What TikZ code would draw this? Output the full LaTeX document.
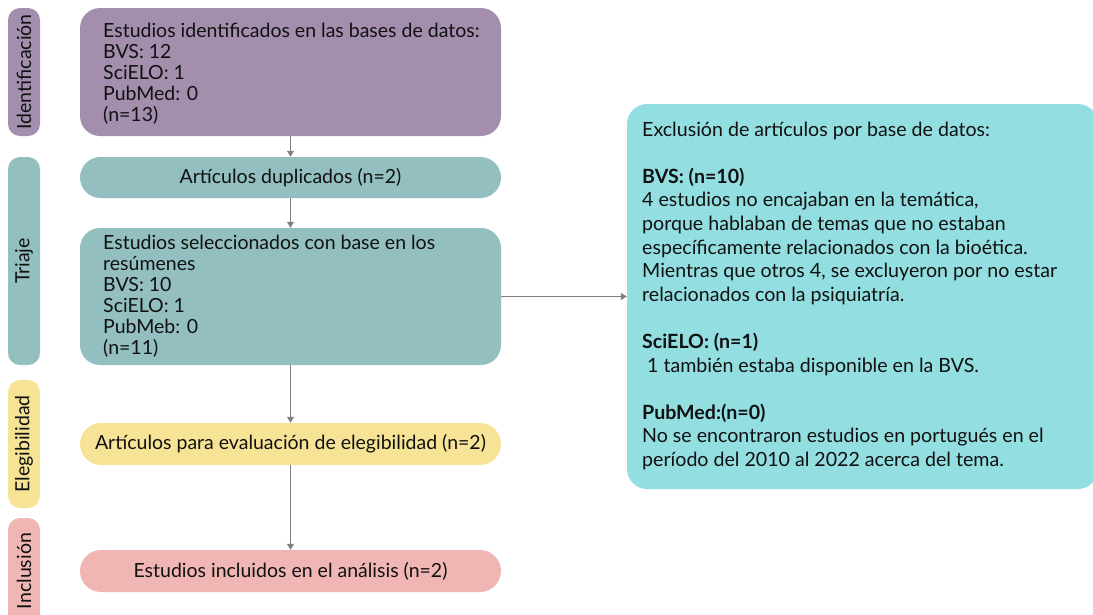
\documentclass[tikz,border=0pt]{standalone}
\usepackage{fontspec}
\setmainfont{Lato}
\usetikzlibrary{arrows.meta}
\definecolor{cpurple}{HTML}{A38FAD}
\definecolor{cteal}{HTML}{93BFC0}
\definecolor{cyellow}{HTML}{F6E396}
\definecolor{cpink}{HTML}{EFB6B4}
\definecolor{ccyan}{HTML}{93DEE0}
\definecolor{cgray}{HTML}{808080}
\definecolor{ctext}{HTML}{111111}
\begin{document}
\begin{tikzpicture}[x=1pt,y=-1pt,
  shapebox/.style={fill=#1, draw=none, inner sep=0pt, text=ctext},
  sidebox/.style={shapebox=#1, rounded corners=12pt, minimum width=32pt},
  mainbox/.style={shapebox=#1, minimum width=421pt, font=\fontsize{19.5}{21}\selectfont},
  sidelabel/.style={rotate=90, inner sep=0pt, text=ctext, font=\fontsize{19.5}{21}\selectfont},
  boxtext/.style={anchor=base west, align=left, inner sep=0pt, text=ctext, font=\fontsize{19.5}{21}\selectfont},
  righttext/.style={anchor=base west, align=left, inner sep=0pt, text=ctext, font=\fontsize{19.6}{23.6}\selectfont},
  arr/.style={draw=cgray, line width=1pt, -{Triangle[width=7pt,length=6pt]}}]
\useasboundingbox (0,0) rectangle (1093,614);
% side boxes
\node[sidebox=cpurple, minimum height=128pt] (s1) at (24,72) {};
\node[sidebox=cteal, minimum height=208pt] (s2) at (24,261) {};
\node[sidebox=cyellow, minimum height=128pt] (s3) at (24,444) {};
\node[sidebox=cpink, minimum height=122pt] (s4) at (24,579) {};
\node[sidelabel] (l1) at (24,72) {Identificación};
\node[sidelabel] (l2) at (24,261) {Triaje};
\node[sidelabel] (l3) at (24,444) {Elegibilidad};
\node[sidelabel] (l4) at (24,571) {Inclusión};
% main boxes
\node[mainbox=cpurple, rounded corners=20pt, minimum height=128pt] (b1) at (290.5,72) {};
\node[mainbox=cteal, rounded corners=20.5pt, minimum height=41pt] (b2) at (290.5,177.5) {Artículos duplicados (n=2)};
\node[mainbox=cteal, rounded corners=20pt, minimum height=137pt] (b3) at (290.5,296.5) {};
\node[mainbox=cyellow, rounded corners=21pt, minimum height=42pt] (b4) at (290.5,444) {Artículos para evaluación de elegibilidad (n=2)};
\node[mainbox=cpink, rounded corners=21pt, minimum height=42pt] (b5) at (290.5,571) {Estudios incluidos en el análisis (n=2)};
\node[boxtext] (t1) at (103,121) {Estudios identificados en las bases de datos:\\BVS: 12\\SciELO: 1\\PubMed: 0\\(n=13)};
\node[boxtext] (t3) at (103,354) {Estudios seleccionados con base en los\\resúmenes\\BVS: 10\\SciELO: 1\\PubMeb: 0\\(n=11)};
% right box
\node[shapebox=ccyan, rounded corners=20pt, minimum width=471pt, minimum height=385pt] (r) at (862.5,296.5) {};
\node[righttext] (rt) at (642,466.4) {Exclusión de artículos por base de datos:\\[23.6pt]
\textbf{BVS: (n=10)}\\
4 estudios no encajaban en la temática,\\
porque hablaban de temas que no estaban\\
específicamente relacionados con la bioética.\\
Mientras que otros 4, se excluyeron por no estar\\
relacionados con la psiquiatría.\\[23.6pt]
\textbf{SciELO: (n=1)}\\
\ 1 también estaba disponible en la BVS.\\[23.6pt]
\textbf{PubMed:(n=0)}\\
No se encontraron estudios en portugués en el\\
período del 2010 al 2022 acerca del tema.};
% connectors
\draw[arr] (b1) -- (b2);
\draw[arr] (b2) -- (b3);
\draw[arr] (b3) -- (b4);
\draw[arr] (b4) -- (b5);
\draw[arr] (b3.east) -- (b3.east -| r.west);
\end{tikzpicture}
\end{document}
